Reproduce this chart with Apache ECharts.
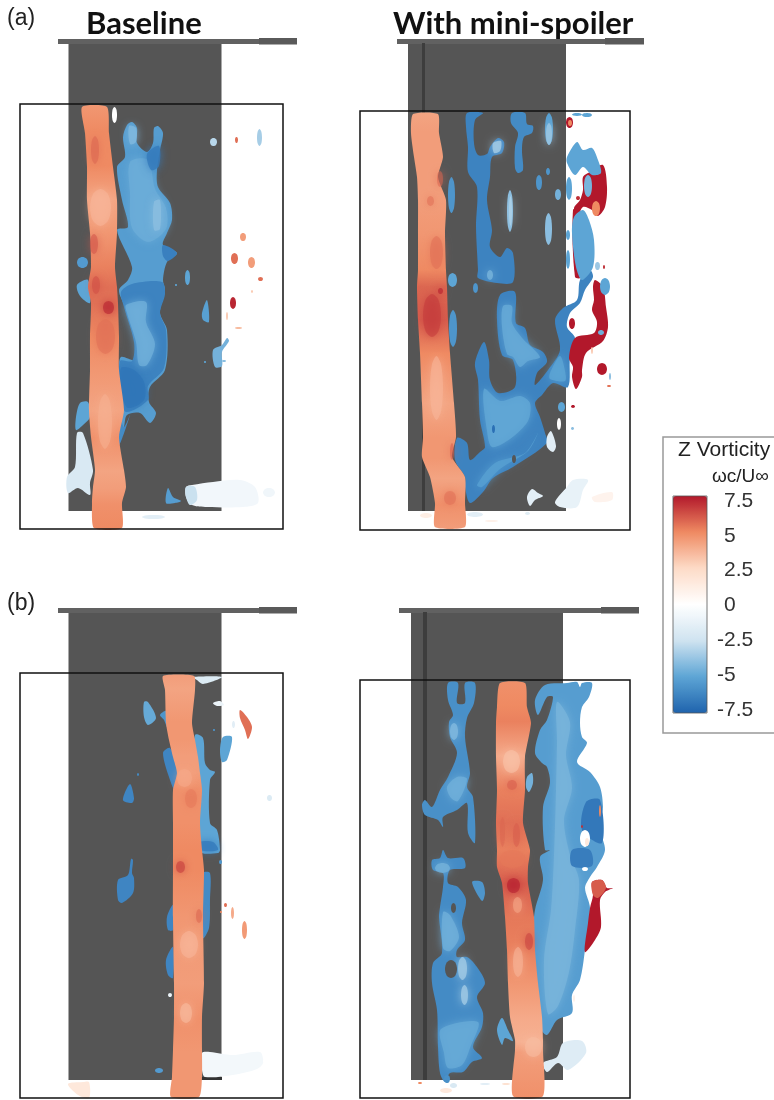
<!DOCTYPE html>
<html><head><meta charset="utf-8">
<style>html,body{margin:0;padding:0;background:#fff}#c{width:774px;height:1100px;filter:blur(0.45px)}</style>
<script src="https://cdn.jsdelivr.net/npm/echarts@6/dist/echarts.min.js"></script>
</head><body><div id="c"></div>
<script>
// colour scale (vorticity, wc/Uinf)
const scaleTicks=[7.5,5,2.5,0,-2.5,-5,-7.5];
const scaleColors=['#1f63ad','#5da5d5','#cfe3f0','#ffffff','#fddbc7','#ef8a62','#b2182b'];

// Vortex core ribbons: spanwise station, left edge, right edge, core vorticity
const a1Z=[3,29,63,96,129,163,183,199,233,266,306,333,366,383,399,424];
const a1L=[62,65,67,67,70,71,68,71,70,70,69,71,75,73,72,74];
const a1R=[87,89,93,97,97,95,97,98,99,99,104,99,104,106,102,102];
const a1V=[4.6,5,5,4.2,4.6,5.2,5.6,5.6,5,4.6,4.2,4.8,4.2,4.4,4.8,5];
const a2Z=[3,22,46,66,89,122,159,176,209,242,292,326,346,366,392,416];
const a2L=[53,51,54,57,58,58,58,57,58,60,62,63,62,70,75,75];
const a2R=[78,79,83,78,86,85,86,87,88,90,94,96,92,105,105,105];
const a2V=[4.2,4.4,4.4,4.4,4.4,4.6,5,5.8,6,5,4.2,4.6,4.6,4.2,4.8,4.4];
const b1Z=[3,17,50,67,84,100,117,150,177,197,244,310,344,377,404,424];
const b1L=[143,145,146,149,153,157,153,153,153,153,153,154,154,153,152,151];
const b1R=[174,175,172,175,178,180,182,180,182,184,183,184,182,182,182,179];
const b1V=[4.4,4.2,4.6,4.6,4.4,4.4,4.8,4.8,5,5,4.6,4.4,4.8,4.6,4.6,4.6];
const b2Z=[3,27,43,77,110,143,170,187,203,237,270,303,337,360,370,416];
const b2L=[140,137,136,136,137,136,137,137,142,145,147,148,150,155,155,153];
const b2R=[165,167,171,165,165,163,170,168,168,174,175,178,182,183,183,183];
const b2V=[4.8,5,5.2,4,5.2,5.6,5.2,5.6,6,5.4,5.2,4.6,4,3.8,4.4,4.8];

// Contour patches: [vorticity, [x,z, x,z, ...], soft-edged interior flag]
const a1Blobs=[
[-5.3,[112,18,117,24,117,39,127,48,133,39,134,24,138,22,143,29,140,46,137,66,138,83,150,99,152,116,147,129,143,141,157,149,147,158,143,176,145,186,140,209,147,226,145,266,130,283,129,298,136,309,130,319,120,309,107,311,104,323,99,341,100,313,99,266,101,253,115,256,115,239,105,203,99,186,108,176,112,163,97,126,108,123,102,96,97,63,105,53,103,33,107,21]],
[-4.7,[110,58,128,56,135,85,146,104,146,125,128,138,112,124,110,90],1],
[-6.6,[127,50,139,42,139,62,131,66],1],
[-4.2,[109,22,116,24,116,38,110,40],1],
[-6.3,[101,188,112,180,142,178,145,190,140,209,146,226,144,264,128,282,128,296,106,308,101,290,100,257,112,257,114,238,104,203]],
[-4.6,[106,201,126,198,126,218,135,240,127,261,119,261,116,238,107,209],1],
[-6.8,[101,264,114,266,124,278,124,296,108,304,102,290],1],
[-4.0,[134,98,140,96,140,125,134,126],1],
[-5.0,[56,313,60,299,68,298,70,313,63,321,56,326]],
[-2,[57,329,63,329,73,366,70,379,70,391,58,384,48,389,47,373,55,363]],
[-5.0,[57,181,68,176,70,199,60,192]],
[-5.2,[182,209,187,196,189,218,183,216]],
[-4.5,[193,246,202,241,207,234,209,237,202,248,202,262,195,263]],
[-5.3,[148,384,153,393,161,397,155,399,146,399]],
[-0.7,[166,383,172,381,193,378,220,376,235,383,238,399,223,403,187,403,172,401,166,393]],
[-2.6,[166,383,175,383,177,396,170,401,166,393]],
[-6.0,[104,323,110,311,99,341,100,313]],
[-6.4,[143,141,157,149,148,157,143,152]]
];
const a1Spots=[
[0,92,97,3,19],[-3,190,197,34,42],[-3.4,237,242,25,42],[5.6,215,218,33,39],[4.4,220,226,129,137],[5.6,211,218,149,160],[4.4,228,235,153,164],[7.2,210,216,193,205],[5.6,238,243,173,177],[3,206,208,208,216],[3.5,215,222,223,225],[3,231,233,186,189],
[-5.4,57,68,153,164],[-5,165,170,166,181],[-0.8,243,255,384,393],[-1.5,122,145,411,415],[-5,155,157,180,182],[-5,184,186,257,259],[-4,202,206,256,258]
];
const a1Over=[[5.8,71,79,32,60],[3.6,70,91,85,122],[6.2,70,78,130,150],[6.3,72,80,172,190],[7.4,83,94,197,210],[5.6,76,95,215,250],[3.8,78,92,290,345]];

const a2Blobs=[
[-6.3,[107,2,123,2,115,9,114,32,118,44,127,43,130,36,138,27,144,31,142,42,132,46,130,66,127,89,132,119,130,136,140,146,147,137,153,142,153,171,137,172,118,167,118,159,116,116,117,76,108,61,108,36,106,16]],
[-6,[152,2,165,2,167,13,173,15,172,22,164,26,162,39,163,59,158,62,155,57,155,36,158,22,151,12]],
[-6.3,[124,231,129,249,130,269,138,282,155,276,153,249,142,244,137,209,140,184,155,181,156,212,165,217,170,234,183,241,187,251,177,262,175,274,188,259,200,239,195,209,203,197,217,189,220,169,230,159,233,166,225,179,220,192,210,202,207,216,215,227,210,246,208,276,193,272,182,284,175,292,180,306,185,322,187,332,153,356,133,367,123,381,110,392,105,376,105,366,95,349,97,327,107,332,110,349,120,341,125,336,120,309,118,269,115,252]],
[-4.9,[124,278,140,290,160,285,170,292,168,310,150,328,132,336,127,320],1],
[-4.8,[143,195,152,195,152,212,163,228,180,246,168,250,160,256,153,246,147,243,142,216],1],
[-5,[190,262,200,245,205,260,205,270,190,268],1],
[-5.2,[117,374,135,352,165,342,178,322,168,340,140,358,122,376],1],
[-3.4,[133,32,141,30,140,40,134,42],1],
// right-hand structures
[7.5,[235,169,243,176,246,196,248,216,243,230,226,242,222,259,222,266,216,278,212,266,213,256,209,247,215,227,234,222,237,211,232,199,234,189,233,176]],
[7.5,[223,66,230,61,243,54,247,76,245,96,238,105,232,99,223,96,217,106,214,97,220,89,223,79]],
[-5,[207,46,217,31,223,39,232,37,238,49,241,62,232,64,223,56,215,64,207,52]],
[7.5,[213,99,220,99,222,166,215,166]],
[-5,[214,106,223,99,229,109,234,129,233,156,222,169,216,156,212,122]],
[-1.5,[187,326,191,320,196,335,193,341,187,336]],
[-1.5,[167,386,172,378,178,382,183,385,175,389,170,395]],
[-1.2,[195,391,207,376,213,369,228,369,223,379,217,396,200,396]],
[0.8,[232,386,252,381,252,389,235,391]]
];
const a2Spots=[
[-5.2,185,193,2,34],[-3.6,186,192,12,34,1],[-5.6,88,95,66,102],[-4,147,153,79,121],[-3.2,149,152,85,115,1],[-4,185,192,102,134],[-5.6,176,182,64,79],[-5.6,186,190,57,64],[-4.5,195,201,78,89],
[-5,88,97,162,176],[-5.6,113,118,172,182],[-5.6,89,97,199,236],[-4.4,127,133,159,169,1],[-7,132,135,314,322],
[-5,198,205,291,301],[0,197,201,307,319],[7.5,206,213,6,17],[5,208,212,9,15],[-5,212,222,2,5],[-5,222,232,2,6],[-5,206,212,66,89],[-5,206,210,119,129],[-5,206,210,139,158],
[-3.6,235,240,151,159],[7,243,245,154,158],[-5,240,250,167,184],[-4.6,238,244,219,224],[3,231,233,236,243],[7.5,209,215,207,218],[7.5,237,247,252,264],[-4,249,251,262,269],[5.5,247,251,274,276],[7.5,211,215,294,297],[-4,211,214,316,319],
[-4.4,224,232,64,86],[5,232,240,90,105],[1.2,60,72,402,407],[-1.5,107,123,401,406],[1,125,138,409,411],[-1.6,165,170,401,404],[7,216,220,85,89]
];
const a2Holes=[[152,156,344,352]];
const a2Over=[[5.6,70,83,125,158],[6.8,63,81,183,226],[7.5,78,83,177,183],[3.6,70,83,245,309],[5.6,84,96,380,394],[6,90,94,332,349],[5.8,77,83,60,76],[5.6,67,74,85,95]];

const b1Blobs=[
[-5,[175,62,183,65,185,90,190,97,195,99,190,107,190,150,197,157,200,177,198,180,180,178,172,100]],
[-6.6,[180,169,193,169,198,177,180,177],1],
[-6,[183,200,190,200,190,227,189,255,183,265]],
[-5.6,[140,42,146,38,147,54,144,47]],
[-6.2,[143,80,150,75,160,97,155,117,150,107]],
[-6.2,[153,232,147,244,148,257,153,257]],
[-6.2,[153,274,146,287,148,302,153,305]],
[-4.8,[124,29,128,29,136,45,128,52,124,44]],
[-6.2,[103,127,110,111,114,125,112,130]],
[-6.2,[98,207,108,202,111,186,113,187,112,200,114,205,113,220,102,230,98,227]],
[-5,[200,77,203,64,212,64,207,87,202,89]],
[-1.8,[173,4,202,4,183,11,177,7]],
[-1,[193,30,200,28,204,32,197,33]],
[5.6,[220,37,227,44,232,54,228,66,225,57,220,45]],
[-0.6,[182,380,190,379,213,382,240,379,243,390,237,396,213,402,185,404,182,397]],
[1.6,[48,411,63,409,69,409,69,425,58,422]]
];
const b1Spots=[
[-1.5,212,215,48,55],[-5.6,193,195,56,58],[-1.8,247,252,122,128],[-5.6,199,202,187,191],[-5.4,135,143,395,400],[5.6,204,207,230,234],[4,211,214,234,246],[4.5,222,227,248,266],[5,200,202,238,240],[-1,148,152,320,324],[-6,117,119,100,103]
];
const b1Holes=[];
const b1Dark=[182,202,404,407];
const b1Over=[[6.8,156,165,188,200],[5.8,176,182,236,250],[3.6,160,178,258,285],[5.4,165,177,116,135],[4,157,172,96,114],[3.4,160,172,330,350]];

const b2Blobs=[
[-5.8,[88,3,98,3,97,23,105,23,105,3,115,3,114,23,107,38,105,57,110,93,107,107,113,117,115,163,108,153,107,123,97,130,83,137,83,147,78,140,65,135,62,125,65,120,72,127,80,110,88,97,97,73,90,57,89,42,93,35,88,20]],
[-4.6,[87,107,97,97,107,99,98,121,91,118],1],
[-6,[72,180,80,178,83,170,88,178,103,178,105,188,90,190,88,203,98,207,106,220,102,243,105,260,97,270,97,277,107,277,117,287,125,303,117,317,123,333,122,347,113,367,122,378,112,382,103,392,90,393,85,402,80,393,78,367,77,330,72,303,73,283,82,273,79,237,80,227,83,207,83,193,73,190]],
[-4.6,[83,232,90,235,99,257,90,271,83,268],1],
[-4.8,[81,349,118,342,110,368,102,385,88,388,84,373],1],
[-5.6,[112,202,122,202,125,213,122,221]],
[-5.3,[175,20,185,5,207,3,217,2,220,7,222,3,232,3,229,17,222,27,220,43,222,57,227,63,217,82,230,92,240,107,243,127,241,137,240,150,245,170,237,187,230,197,225,208,230,228,225,270,220,300,212,315,212,333,197,340,187,355,180,347,173,257,175,230,183,200,180,177,190,170,185,170,183,127,190,103,187,87,182,83,175,73,180,50,187,40,193,17,187,17,178,35]],
[-4.4,[197,22,210,42,206,75,212,108,204,140,210,175,219,200,215,250,209,292,198,326,188,334,184,280,191,230,194,175,196,110,197,60],1],
[-6.7,[226,122,240,120,242,163,222,150]],
[-6.5,[212,170,230,170,232,186,212,186]],
[7.5,[232,202,242,200,247,208,253,208,245,212,240,220,241,247,235,260,225,272,228,243,230,228,233,215]],
[6,[232,202,242,200,246,208,238,218,233,215]],
[-4.5,[167,97,172,93,173,103,169,112,166,107]],
[-5,[137,350,142,338,148,350,153,361,145,358,142,365]],
[-1.7,[183,383,197,377,203,363,222,361,226,373,208,390,198,383,187,392]]
];
const b2Spots=[
[-4.2,90,98,43,60,1],[-4.5,75,90,183,193,1],[-3.5,98,107,277,300,1],[-3.5,101,108,305,325,1],[5,239,241,125,137],[0,220,230,150,167],[1.5,225,229,158,166],[7,221,223,145,148],[0,222,228,187,191],[5,58,62,402,404],[1.5,80,92,408,413],[-2,90,97,403,408],[-1.5,120,130,403,405],[2,142,150,403,405],[1,213,215,315,322],[-5.8,84,90,395,403]
];
const b2Holes=[[85,97,280,298],[91,96,223,233]];
const b2Over=[[7.5,147,160,198,213],[6.6,165,173,253,270],[3.2,143,160,70,93],[6,147,157,100,110],[5.8,140,145,137,167],[6,153,160,143,167],[4,153,162,217,233],[3.6,153,163,267,297],[3.4,165,182,357,377],[5.4,140,165,170,188]];

// wing planform: [root x, tip x, top z, bottom z, spar left, spar thick start, spar right, stripe x0, stripe x1]
const a1Wing=[48.5,201.5,-61,407,38,239,277,null,null];
const a2Wing=[48,206,-68,400,37,245,284,62,65];
const b1Wing=[48.5,201.5,-61,407,38,239,277,null,null];
const b2Wing=[51,203,-68,400,39,241,279,63,67];

const legendTitle=['Z Vorticity','ωc/U∞'];
const panelLetters=['(a)','(b)'];
const columnTitles=['Baseline','With mini-spoiler'];

function hex(c){return [1,3,5].map(i=>parseInt(c.substr(i,2),16));}
function colorOf(v){
  const t=Math.max(0,Math.min(0.9999,(v+7.5)/15))*(scaleColors.length-1),i=Math.floor(t),f=t-i;
  const a=hex(scaleColors[i]),b=hex(scaleColors[i+1]);
  return 'rgb('+a.map((x,k)=>Math.round(x+(b[k]-x)*f)).join(',')+')';
}
function spotOutline(s){ // bounding box to rounded outline
  const cx=(s[1]+s[2])/2,cz=(s[3]+s[4])/2,rx=(s[2]-s[1])/2,rz=(s[4]-s[3])/2,k=0.72;
  return [s[0],[cx,cz-rz,cx+rx*k,cz-rz*k,cx+rx,cz,cx+rx*k,cz+rz*k,cx,cz+rz,cx-rx*k,cz+rz*k,cx-rx,cz,cx-rx*k,cz-rz*k],s[5]];
}
const panels=[
 {g:[20,104,263,425],z:a1Z,l:a1L,r:a1R,v:a1V,under:a1Blobs.concat(a1Spots.map(spotOutline)),holes:[],over:a1Over.map(spotOutline),wing:a1Wing},
 {g:[360,111,270,419],z:a2Z,l:a2L,r:a2R,v:a2V,under:a2Blobs.concat(a2Spots.map(spotOutline)),holes:a2Holes,over:a2Over.map(spotOutline),wing:a2Wing},
 {g:[20,673,263,425],z:b1Z,l:b1L,r:b1R,v:b1V,under:b1Blobs.concat(b1Spots.map(spotOutline)),holes:b1Holes,over:b1Over.map(spotOutline),wing:b1Wing,dark:b1Dark},
 {g:[360,680,270,418],z:b2Z,l:b2L,r:b2R,v:b2V,under:b2Blobs.concat(b2Spots.map(spotOutline)),holes:b2Holes,over:b2Over.map(spotOutline),wing:b2Wing}
];
const WING='#555555';
const grid=[],xAxis=[],yAxis=[],series=[],blobSeries=[];
function poly(api,flat,smooth,style){
  const pts=[];for(let i=0;i<flat.length;i+=2)pts.push(api.coord([flat[i],flat[i+1]]));
  return {type:'polygon',shape:{points:pts,smooth:smooth},style:style};
}
function rectOf(api,x0,x1,z0,z1,style){
  const a=api.coord([x0,z0]),b=api.coord([x1,z1]);
  return {type:'rect',shape:{x:a[0],y:a[1],width:b[0]-a[0],height:b[1]-a[1]},style:style};
}
panels.forEach((p,i)=>{
  grid.push({left:p.g[0],top:p.g[1],width:p.g[2],height:p.g[3],show:false});
  xAxis.push({gridIndex:i,type:'value',min:0,max:p.g[2],show:false});
  yAxis.push({gridIndex:i,type:'value',min:0,max:p.g[3],inverse:true,show:false});
  const w=p.wing,base={type:'custom',xAxisIndex:i,yAxisIndex:i,silent:true,animation:false,coordinateSystem:'cartesian2d'};
  series.push(Object.assign({},base,{name:'wing'+i,data:[[0,0]],renderItem:(prm,api)=>{
    const kids=[
      rectOf(api,w[0],w[1],w[2],w[3],{fill:WING}),
      rectOf(api,w[4],w[6],w[2]-4,w[2]+1,{fill:'#616161'}),
      rectOf(api,w[5],w[6],w[2]-5,w[2]+1.5,{fill:'#5a5a5a'})
    ];
    if(w[7]!==null)kids.push(rectOf(api,w[7],w[8],w[2],w[3],{fill:'#3d3d3d'}));
    if(p.dark)kids.push(rectOf(api,p.dark[0],p.dark[1],p.dark[2],p.dark[3],{fill:'#333'}));
    return {type:'group',children:kids};
  }}));
  blobSeries.push(series.length);
  series.push(Object.assign({},base,{name:'under'+i,data:p.under.map((b,k)=>[b[0],k]),renderItem:(prm,api)=>{
    const b=p.under[api.value(1)],c=api.visual('color');
    const st=b[2]?{fill:c,opacity:0.8,shadowBlur:9,shadowColor:c}:{fill:c};
    return poly(api,b[1],0.3,st);
  }}));
  series.push(Object.assign({},base,{name:'holes'+i,data:p.holes.map((b,k)=>[k,k]),renderItem:(prm,api)=>{
    const s=spotOutline([0].concat(p.holes[api.value(1)]));
    return poly(api,s[1],0.3,{fill:WING});
  }}));
  series.push(Object.assign({},base,{name:'core'+i,data:[[0,0]],renderItem:(prm,api)=>{
    const flat=[];p.z.forEach((z,k)=>{flat.push(p.l[k],z);});
    for(let k=p.z.length-1;k>=0;k--)flat.push(p.r[k],p.z[k]);
    const z0=p.z[0],z1=p.z[p.z.length-1];
    const stops=p.z.map((z,k)=>({offset:(z-z0)/(z1-z0),color:colorOf(p.v[k])}));
    return poly(api,flat,0.2,{fill:new echarts.graphic.LinearGradient(0,0,0,1,stops)});
  }}));
  series.push(Object.assign({},base,{name:'over'+i,data:p.over.map((b,k)=>[b[0],k]),renderItem:(prm,api)=>{
    const b=p.over[api.value(1)],c=colorOf(b[0]);
    return poly(api,b[1],0.3,{fill:c,opacity:0.55,shadowBlur:8,shadowColor:c});
  }}));
  series.push(Object.assign({},base,{name:'frame'+i,data:[[0,0]],renderItem:(prm,api)=>
    rectOf(api,0,p.g[2],0,p.g[3],{fill:'none',stroke:'#111',lineWidth:1.5})
  }));
});
// colour-bar tick axis
const tickFont={fontSize:21,color:'#333',fontFamily:'Liberation Sans'};
grid.push({left:707,top:501,width:4,height:209,show:false});
xAxis.push({gridIndex:4,type:'value',show:false,min:0,max:1});
yAxis.push({gridIndex:4,type:'value',min:-7.5,max:7.5,interval:2.5,position:'right',
  axisLine:{show:false},axisTick:{show:false},splitLine:{show:false},
  axisLabel:{show:true,margin:6,align:'left',color:'#333',fontFamily:'Liberation Sans',fontSize:21,
    customValues:scaleTicks,
    formatter:v=>v<0?'{n|'+v+'}':'{p|'+v+'}',
    rich:{n:tickFont,p:Object.assign({padding:[0,0,0,7]},tickFont)}}});
const TITLE={fontFamily:'Lato',fontWeight:'bold',fontSize:31,fill:'#111'};
const option={
  animation:false,backgroundColor:'#fff',grid,xAxis,yAxis,series,
  visualMap:{type:'continuous',min:-7.5,max:7.5,dimension:0,seriesIndex:blobSeries,calculable:false,realtime:false,padding:0,
    left:673,top:496,itemWidth:34,itemHeight:217,showLabel:false,text:null,hoverLink:false,
    inRange:{color:scaleColors}},
  graphic:[
    {type:'rect',z:-1,silent:true,shape:{x:663,y:437,width:130,height:296},style:{fill:'#fff',stroke:'#999',lineWidth:1.5}},
    {type:'rect',z:100,silent:true,shape:{x:673,y:496,width:34,height:217},style:{fill:'none',stroke:'#555',lineWidth:0.8}},
    {type:'text',silent:true,x:678,y:440,style:{text:legendTitle[0],font:'21px "Liberation Sans"',fill:'#222'}},
    {type:'text',silent:true,x:712,y:467,style:{text:legendTitle[1],font:'19px "Liberation Sans"',fill:'#222'}},
    {type:'text',silent:true,x:7,y:7,style:{text:panelLetters[0],font:'23px "Liberation Sans"',fill:'#222'}},
    {type:'text',silent:true,x:7,y:592,style:{text:panelLetters[1],font:'23px "Liberation Sans"',fill:'#222'}},
    {type:'text',silent:true,x:86,y:8,style:Object.assign({text:columnTitles[0]},TITLE)},
    {type:'text',silent:true,x:393,y:8,style:Object.assign({text:columnTitles[1]},TITLE)}
  ]
};
const chart=echarts.init(document.getElementById('c'),null,{renderer:'canvas'});
chart.setOption(option);
</script></body></html>
